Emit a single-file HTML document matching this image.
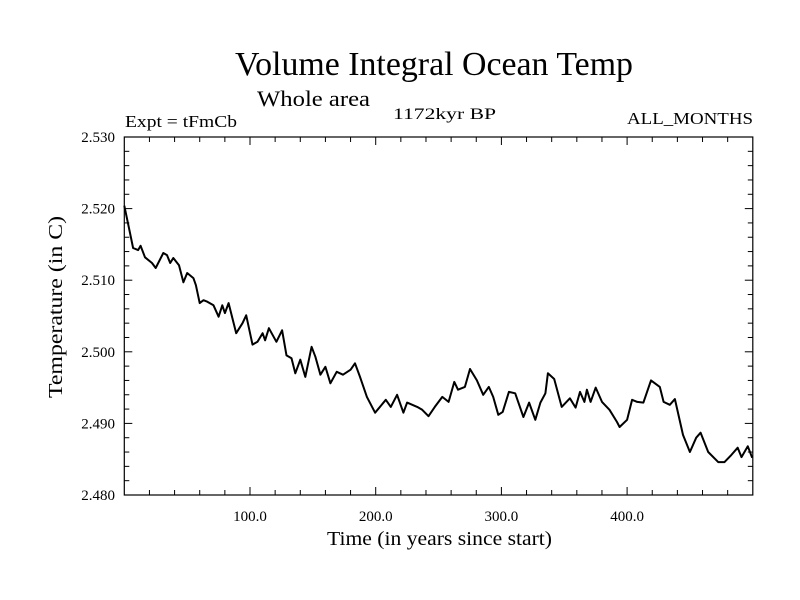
<!DOCTYPE html>
<html><head><meta charset="utf-8"><style>
html,body{margin:0;padding:0;background:#fff;}
svg{display:block;font-family:"Liberation Serif",serif;}
</style></head><body>
<svg id="chart" width="800" height="600" viewBox="0 0 800 600">
<text x="235" y="75" font-size="34" textLength="398" lengthAdjust="spacingAndGlyphs">Volume Integral Ocean Temp</text>
<text x="257" y="106" font-size="22" textLength="113" lengthAdjust="spacingAndGlyphs">Whole area</text>
<text x="125" y="127" font-size="17" textLength="112" lengthAdjust="spacingAndGlyphs">Expt = tFmCb</text>
<text x="393" y="119" font-size="16" textLength="103" lengthAdjust="spacingAndGlyphs">1172kyr BP</text>
<text x="627" y="124" font-size="17" textLength="126" lengthAdjust="spacingAndGlyphs">ALL_MONTHS</text>
<text x="327" y="545" font-size="20" textLength="225" lengthAdjust="spacingAndGlyphs">Time (in years since start)</text>
<text transform="translate(62,398) rotate(-90)" x="0" y="0" font-size="20" textLength="182" lengthAdjust="spacingAndGlyphs">Temperature (in C)</text>
<g id="axes"></g>
</svg>
<script>
const years=[0,4.5,7,11,13,16.5,22,25,31,34,36.5,39,43.5,47,50,55,57,60,63,66,71,75,78,80,83,89,94,97,102,106,110,112,115,121,125.5,129,133,136,140,144,149,152,156,160,164,169,174,180,183.5,187.5,193,199.5,208,212,217,222,225,233,237,242,247,253,258,262.5,265.5,271,275,280.5,285.5,290,293.5,297.5,301,306,311,313.5,317.5,322,327,331,335,337,342,348,354.5,359,362.5,366,368,371,375,380,386,392,394,400,404,408,413,419,426,429,434,438,444.5,450,455,458.5,464.5,472.5,477.5,483,488,491,496,499.5];
const temps=[2.5204,2.5166,2.5145,2.5142,2.5148,2.5132,2.5124,2.5117,2.5138,2.5135,2.5124,2.5131,2.5121,2.5097,2.5110,2.5103,2.5093,2.5068,2.5072,2.5070,2.5065,2.5049,2.5065,2.5054,2.5068,2.5026,2.5040,2.5051,2.5010,2.5014,2.5026,2.5016,2.5033,2.5014,2.5030,2.4995,2.4991,2.4970,2.4989,2.4965,2.5007,2.4993,2.4968,2.4979,2.4956,2.4972,2.4968,2.4975,2.4984,2.4965,2.4937,2.4915,2.4933,2.4923,2.4940,2.4915,2.4929,2.4923,2.4919,2.4910,2.4923,2.4937,2.4930,2.4958,2.4947,2.4951,2.4976,2.4960,2.4940,2.4951,2.4937,2.4912,2.4916,2.4944,2.4942,2.4929,2.4909,2.4929,2.4905,2.4929,2.4942,2.4970,2.4962,2.4923,2.4935,2.4922,2.4944,2.4930,2.4947,2.4930,2.4950,2.4930,2.4919,2.4902,2.4895,2.4905,2.4933,2.4930,2.4929,2.4960,2.4951,2.4930,2.4926,2.4934,2.4884,2.4860,2.4880,2.4887,2.4860,2.4846,2.4846,2.4856,2.4866,2.4853,2.4868,2.4852];
const xTickLabels=["100.0","200.0","300.0","400.0"];
const yTickLabels=["2.480","2.490","2.500","2.510","2.520","2.530"];

const L=124.3,R=752.8,T=137,B=495,X0=0,X1=500,Y0=2.480,Y1=2.530;
const sx=v=>L+(v-X0)/(X1-X0)*(R-L);
const sy=v=>B-(v-Y0)/(Y1-Y0)*(B-T);
const NS="http://www.w3.org/2000/svg";
const g=document.getElementById('axes');
function mk(tag,attrs){const e=document.createElementNS(NS,tag);for(const k in attrs)e.setAttribute(k,attrs[k]);g.appendChild(e);return e;}

const frame=mk('rect',{x:L,y:T,width:R-L,height:B-T,fill:'none',stroke:'#000','stroke-width':1.2});



// x ticks every 20, major every 100
for(let v=20;v<500;v+=20){
  const major=(v%100===0), len=major?8:5, x=sx(v);
  const t1=mk('line',{x1:x,y1:B,x2:x,y2:B-len,stroke:'#000','stroke-width':1});
  
  
  const t2=mk('line',{x1:x,y1:T,x2:x,y2:T+len,stroke:'#000','stroke-width':1});
  
  
}
xTickLabels.forEach(s=>{
  const t=mk('text',{x:sx(parseFloat(s)),y:521,'font-size':15,'text-anchor':'middle'});
  t.textContent=s;
  
  
});
// y ticks every 0.002, major every 0.010
for(let i=1;i<25;i++){
  const v=Y0+i*0.002, major=(i%5===0), len=major?8:5, y=sy(v);
  const t1=mk('line',{x1:L,y1:y,x2:L+len,y2:y,stroke:'#000','stroke-width':1});
  
  
  const t2=mk('line',{x1:R,y1:y,x2:R-len,y2:y,stroke:'#000','stroke-width':1});
  
  
}
yTickLabels.forEach(s=>{
  const t=mk('text',{x:115,y:sy(parseFloat(s))+5,'font-size':15,'text-anchor':'end'});
  t.textContent=s;
  
  
});
const pts=years.map((yr,i)=>sx(yr).toFixed(1)+','+sy(temps[i]).toFixed(1)).join(' ');
const line=mk('polyline',{points:pts,fill:'none',stroke:'#000','stroke-width':2,'stroke-linejoin':'round'});


</script>
</body></html>
